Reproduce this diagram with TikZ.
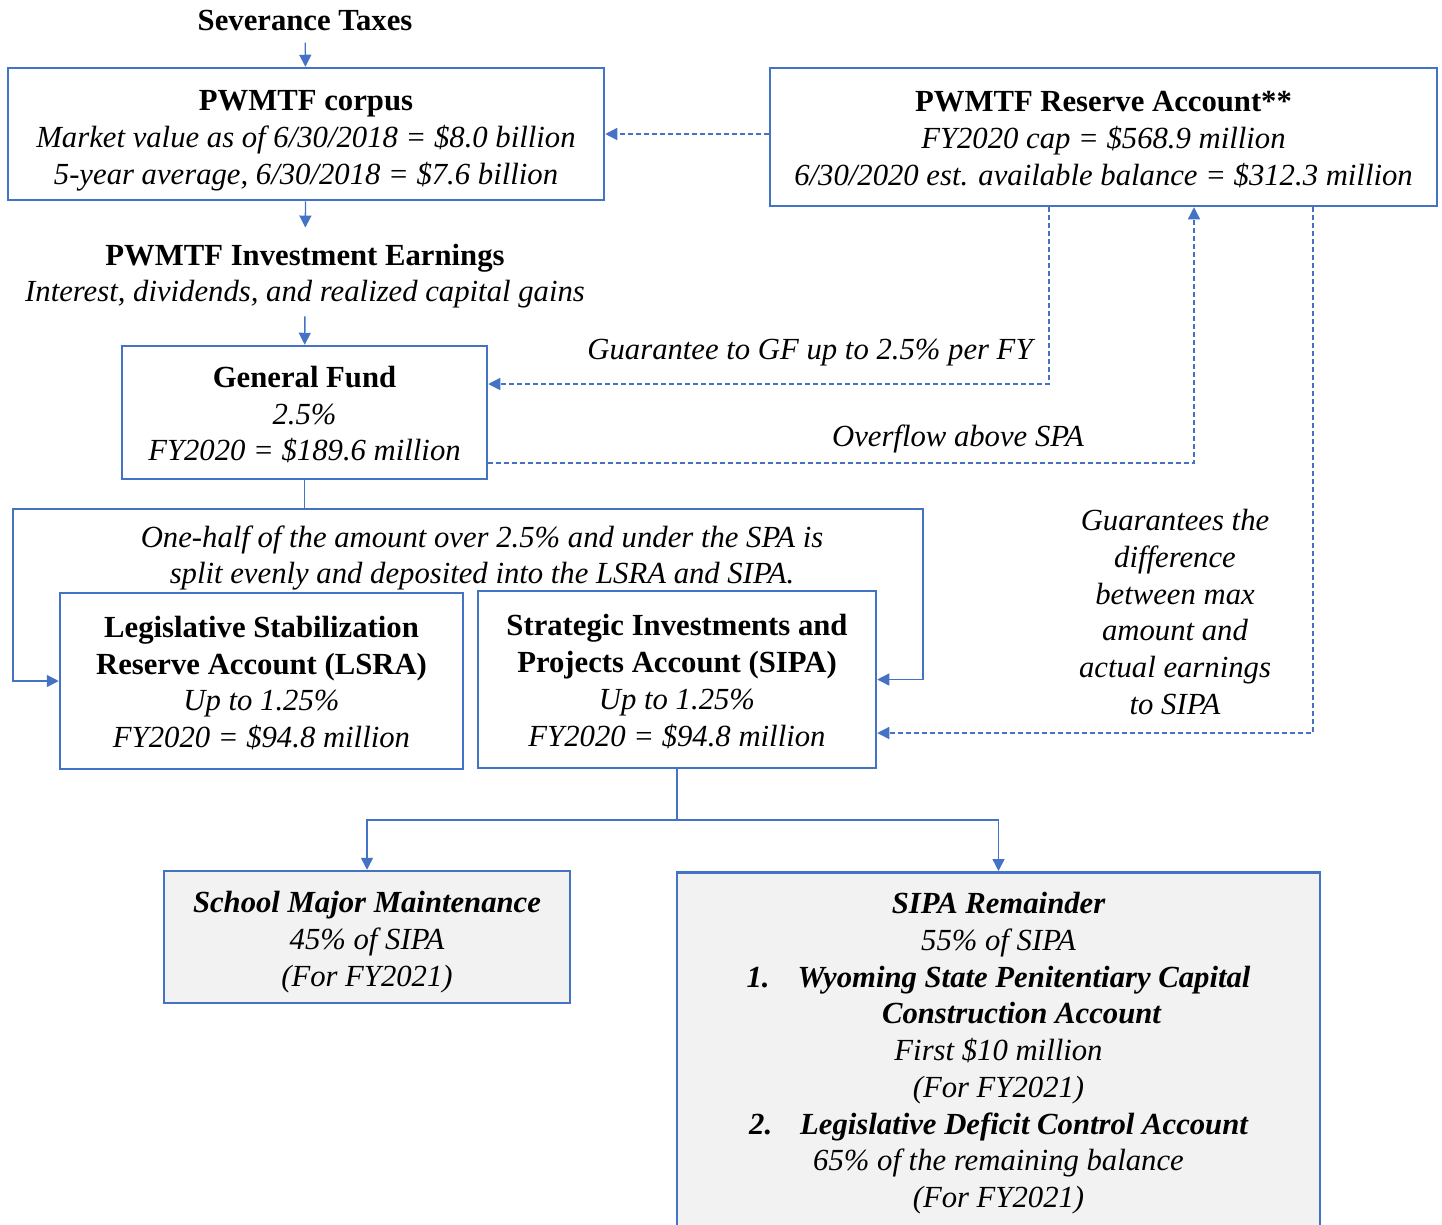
\documentclass[tikz,border=0pt]{standalone}
\usepackage{fontspec}
\setmainfont{Liberation Serif}
\usepackage{tikz}
\usetikzlibrary{arrows.meta,positioning,calc}
\definecolor{pwblue}{HTML}{4472C4}
\definecolor{acctgray}{HTML}{F2F2F2}

\begin{document}
\begin{tikzpicture}[
  x=1pt, y=-1pt,
  font=\fontsize{30.7}{36.7}\selectfont,
  acct/.style={draw=pwblue, rectangle, line width=2.5pt, align=center,
               inner sep=0pt, text depth=0pt,
               font=\fontsize{30.7}{36.7}\selectfont\itshape},
  grayacct/.style={acct, fill=acctgray},
  lbl/.style={align=center, inner sep=0pt,
              font=\fontsize{30.7}{36.7}\selectfont\itshape},
  arr/.style={-{Triangle[length=12pt,width=12pt]}, pwblue, line width=1.4pt},
  darr/.style={arr, dash pattern=on 5pt off 3pt}
]
  \path[use as bounding box] (0,0) rectangle (1442,1224);
  \clip (0,0) rectangle (1442,1224);

  %% Sources
  \node[inner sep=0pt] (sev) at (305,20) {\textbf{Severance Taxes}};
  \node[acct, text height=100pt, minimum width=596pt, minimum height=132pt] (corpus) at (306,134)
    {\textup{\textbf{PWMTF corpus}}\\
     Market value as of 6/30/2018 = \$8.0 billion\\
     5-year average, 6/30/2018 = \$7.6 billion};
  \node[lbl] (earn) at (305,276)
    {\textup{\textbf{PWMTF Investment Earnings}}\\
     Interest, dividends, and realized capital gains};

  %% Reserve
  \node[acct, text height=96.5pt, minimum width=667pt, minimum height=138pt] (reserve) at (1103.5,137)
    {\textup{\textbf{PWMTF Reserve Account**}}\\
     FY2020 cap = \$568.9 million\\
     6/30/2020 est. available balance = \$312.3 million};

  %% General Fund and accounts
  \node[acct, text height=96.5pt, minimum width=365pt, minimum height=133pt] (gf) at (304.5,412.5)
    {\textup{\textbf{General Fund}}\\
     2.5\%\\
     FY2020 = \$189.6 million};
  \node[acct, text height=133pt, minimum width=403pt, minimum height=176pt] (lsra) at (261.5,681)
    {\textup{\textbf{Legislative Stabilization}}\\
     \textup{\textbf{Reserve Account (LSRA)}}\\
     Up to 1.25\%\\
     FY2020 = \$94.8 million};
  \node[acct, text height=133pt, minimum width=398pt, minimum height=177pt] (sipa) at (677,679.5)
    {\textup{\textbf{Strategic Investments and}}\\
     \textup{\textbf{Projects Account (SIPA)}}\\
     Up to 1.25\%\\
     FY2020 = \$94.8 million};

  %% SIPA split
  \node[grayacct, text height=98.5pt, minimum width=406pt, minimum height=132pt] (school) at (367,937)
    {\textbf{School Major Maintenance}\\
     45\% of SIPA\\
     (For FY2021)};
  \node[grayacct, text depth=, minimum width=643pt, minimum height=362pt, anchor=north] (rem) at (998.5,871)
    {\textbf{SIPA Remainder}\\
     55\% of SIPA\\
     \textbf{1.}\hspace{28pt}\textbf{Wyoming State Penitentiary Capital}\\
     \hspace*{46pt}\textbf{Construction Account}\\
     First \$10 million\\
     (For FY2021)\\
     \textbf{2.}\hspace{28pt}\textbf{Legislative Deficit Control Account}\\
     65\% of the remaining balance\\
     (For FY2021)};

  %% Labels
  \node[lbl] (guarlbl) at (810,353) {Guarantee to GF up to 2.5\% per FY};
  \node[lbl] (overlbl) at (958,439) {Overflow above SPA};
  \node[lbl] (difflbl) at (1175,612)
    {Guarantees the\\ difference\\ between max\\ amount and\\ actual earnings\\ to SIPA};
  \node[lbl] (halflbl) at (482,558)
    {One-half of the amount over 2.5\% and under the SPA is\\
     split evenly and deposited into the LSRA and SIPA.};

  %% Turning points
  \coordinate (g1) at (1049,384);
  \coordinate (o1) at (1194,463);
  \coordinate (d1) at (1313,733);
  \coordinate (sl) at (13,509);
  \coordinate (sr) at (923,509);
  \coordinate (b1) at (677,820);

  %% Arrows
  \draw[arr, shorten <=12pt] (sev) -- (corpus);
  \draw[arr, shorten >=16pt] (corpus) -- (earn);
  \draw[arr, shorten <=8pt] (earn) -- (gf);
  \draw[darr] (corpus.east -| reserve.west) -- (corpus.east);
  \draw[darr] (reserve.south -| g1) -- (g1) -- (gf.east |- g1);
  \draw[darr] (gf.east |- o1) -- (o1) -- (reserve.south -| o1);
  \draw[darr] (reserve.south -| d1) -- (d1) -- (sipa.east |- d1);
  \draw[arr] (gf.south) |- (sl) |- (lsra.west);
  \draw[arr] (gf.south) |- (sr) |- (sipa.east);
  \draw[arr] (sipa.south) -- (b1) -| (school.north);
  \draw[arr] (b1) -| (rem.north);
\end{tikzpicture}
\end{document}
